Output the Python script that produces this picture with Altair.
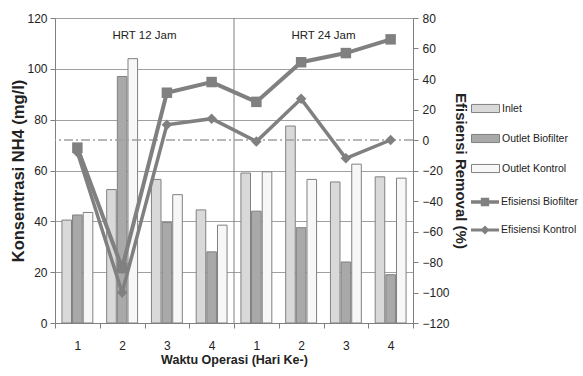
import altair as alt
import pandas as pd

# ---- data ----
group_keys = ["A1", "A2", "A3", "A4", "B1", "B2", "B3", "B4"]
day_labels = ["1", "2", "3", "4", "1", "2", "3", "4"]
bar_series = ["Inlet", "Outlet Biofilter", "Outlet Kontrol"]
inlet = [40.5, 52.5, 56.5, 44.5, 59, 77.5, 55.5, 57.5]
outlet_biofilter = [42.5, 97, 39.5, 28, 44, 37.5, 24, 19]
outlet_kontrol = [43.5, 104, 50.5, 38.5, 59.5, 56.5, 62.5, 57]
line_series = ["Efisiensi Biofilter", "Efisiensi Kontrol"]
eff_biofilter = [-5, -84, 31, 38, 25, 51, 57, 66]
eff_kontrol = [-8, -100, 10, 14, -1, 27, -12, 0]
hrt_labels = ["HRT 12 Jam", "HRT 24 Jam"]
hrt_at = ["A2", "B2"]
left_ticks = [0, 20, 40, 60, 80, 100, 120]
right_ticks = [-120, -100, -80, -60, -40, -20, 0, 20, 40, 60, 80]

bars_df = pd.DataFrame(
    [{"g": g, "series": s, "v": v}
     for s, vals in zip(bar_series, [inlet, outlet_biofilter, outlet_kontrol])
     for g, v in zip(group_keys, vals)]
)
lines_df = pd.DataFrame(
    [{"g": g, "series": s, "v": v}
     for s, vals in zip(line_series, [eff_biofilter, eff_kontrol])
     for g, v in zip(group_keys, vals)]
)
hrt_df = pd.DataFrame({"g": hrt_at, "label": hrt_labels, "v": [113, 113]})
divider_df = pd.DataFrame({"g": ["B1"]})
zero_df = pd.DataFrame({"v": [0]})

GRAY = "#808080"
FONT = "Liberation Sans"

x_axis = alt.Axis(
    title="Waktu Operasi (Hari Ke-)",
    labelExpr="substring(datum.label, 1)",
    labelAngle=0,
    tickBand="extent",
    tickSize=5,
    labelPadding=12,
    titlePadding=2,
    domainColor=GRAY,
    tickColor=GRAY,
    labelFont=FONT,
    labelFontSize=12,
    labelColor="#222",
    titleFont=FONT,
    titleFontSize=12.5,
    titleFontWeight="bold",
    titleColor="#222",
    grid=False,
)
x_scale = alt.Scale(domain=group_keys, paddingInner=0, paddingOuter=0)


def X(**kw):
    return alt.X("g:N", scale=x_scale, axis=x_axis, sort=group_keys, **kw)


left_scale = alt.Scale(domain=[0, 120], nice=False, zero=False)
left_axis = alt.Axis(
    title="Konsentrasi NH4 (mg/l)",
    orient="left",
    values=left_ticks,
    grid=True,
    gridColor="#a0a0a0",
    domainColor=GRAY,
    tickColor=GRAY,
    tickSize=5,
    labelPadding=3,
    titlePadding=0,
    labelFont=FONT,
    labelFontSize=12,
    labelColor="#222",
    titleFont=FONT,
    titleFontSize=16.5,
    titleFontWeight="bold",
    titleColor="#222",
)
right_scale = alt.Scale(domain=[-120, 80], nice=False, zero=False)
right_axis = alt.Axis(
    title="Efisiensi Removal (%)",
    orient="right",
    values=right_ticks,
    grid=False,
    domainColor=GRAY,
    tickColor=GRAY,
    tickSize=5,
    labelPadding=4,
    titlePadding=3,
    labelFont=FONT,
    labelFontSize=12,
    labelColor="#222",
    titleFont=FONT,
    titleFontSize=15,
    titleFontWeight="bold",
    titleColor="#222",
)

rect_path = "M-1,-0.29H1V0.29H-1Z"
sq_path = "M-1,-0.13H1V0.13H-1Z M-0.3,-0.3H0.3V0.3H-0.3Z"
di_path = "M-1,-0.1H1V0.1H-1Z M0,-0.32L0.32,0L0,0.32L-0.32,0Z"

bars = alt.Chart(bars_df).mark_bar(stroke=GRAY, strokeWidth=1).encode(
    x=X(),
    xOffset=alt.XOffset("series:N", sort=bar_series,
                        scale=alt.Scale(domain=bar_series, paddingInner=0.1, paddingOuter=0.65)),
    y=alt.Y("v:Q", scale=left_scale, axis=left_axis),
    fill=alt.Fill(
        "series:N",
        scale=alt.Scale(domain=bar_series, range=["#d9d9d9", "#a9a9a9", "#f7f7f7"]),
        legend=alt.Legend(
            title=None, orient="none", legendX=416, legendY=76,
            symbolType=rect_path, symbolSize=784, symbolStrokeColor=GRAY,
            symbolStrokeWidth=1, rowPadding=9, labelOffset=2,
            labelFont=FONT, labelFontSize=10.5, labelColor="#222",
        ),
    ),
)

divider = alt.Chart(divider_df).mark_rule(color=GRAY, strokeWidth=1).encode(
    x=X(bandPosition=0)
)

hrt = alt.Chart(hrt_df).mark_text(font=FONT, fontSize=11.5, color="#222").encode(
    x=X(bandPosition=1),
    y=alt.Y("v:Q", scale=left_scale, axis=left_axis),
    text="label:N",
)

zero_rule = alt.Chart(zero_df).mark_rule(
    color="#a0a0a0", strokeWidth=1.5, strokeDash=[9, 3, 2, 3]
).encode(y=alt.Y("v:Q", scale=right_scale, axis=right_axis))

line_bio = alt.Chart(lines_df).transform_filter(
    alt.datum.series == line_series[0]
).mark_line(color=GRAY, strokeWidth=4).encode(
    x=X(), y=alt.Y("v:Q", scale=right_scale, axis=right_axis)
)
line_kon = alt.Chart(lines_df).transform_filter(
    alt.datum.series == line_series[1]
).mark_line(color=GRAY, strokeWidth=3.5).encode(
    x=X(), y=alt.Y("v:Q", scale=right_scale, axis=right_axis)
)
pts_bio = alt.Chart(lines_df).transform_filter(
    alt.datum.series == line_series[0]
).mark_point(filled=True, opacity=1, color=GRAY, shape="square", size=110).encode(
    x=X(), y=alt.Y("v:Q", scale=right_scale, axis=right_axis)
)
pts_kon = alt.Chart(lines_df).transform_filter(
    alt.datum.series == line_series[1]
).mark_point(filled=True, opacity=1, color=GRAY, shape="diamond", size=110).encode(
    x=X(), y=alt.Y("v:Q", scale=right_scale, axis=right_axis)
)

# legend-only layer (no marks drawn) for the two efficiency series
line_legend = alt.Chart(lines_df).transform_filter("false").mark_point(
    filled=True, opacity=1, color=GRAY
).encode(
    x=X(),
    y=alt.Y("v:Q", scale=right_scale, axis=right_axis),
    shape=alt.Shape(
        "series:N",
        scale=alt.Scale(domain=line_series, range=[sq_path, di_path]),
        legend=alt.Legend(
            title=None, orient="none", legendX=416, legendY=170,
            symbolSize=784, symbolFillColor=GRAY, symbolStrokeWidth=0,
            rowPadding=8, labelOffset=2,
            labelFont=FONT, labelFontSize=10.5, labelColor="#222",
        ),
    ),
)

left_layer = alt.layer(bars, divider, hrt)
right_layer = alt.layer(zero_rule, line_bio, line_kon, pts_bio, pts_kon, line_legend)

chart = alt.layer(left_layer, right_layer).resolve_scale(y="independent").properties(
    width=358,
    height=305,
    autosize=alt.AutoSizeParams(type="none"),
    padding={"left": 55, "top": 18, "right": 170, "bottom": 53},
    background="white",
).configure_view(stroke=None)

chart.save("out.html", embed_options={"renderer": "svg", "actions": False})
